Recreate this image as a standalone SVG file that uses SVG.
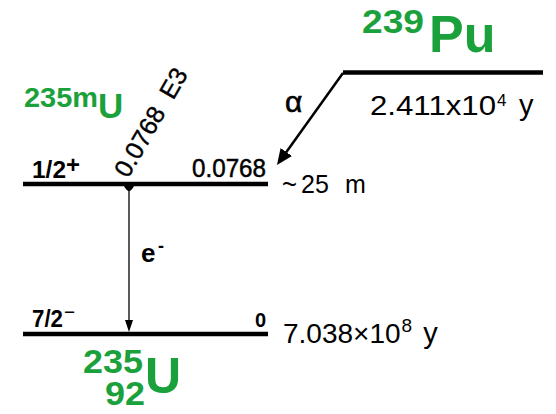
<svg xmlns="http://www.w3.org/2000/svg" width="556" height="414" viewBox="0 0 556 414">
<style>
.t{font-family:"Liberation Sans",Arial,sans-serif;fill:#000}
.g{font-family:"Liberation Sans",Arial,sans-serif;fill:#1ba13b;font-weight:bold}
.b{font-weight:bold}
.lvl{stroke:#000;stroke-width:4.5;fill:none}
</style>
<defs>
<marker id="ahA" viewBox="0 0 16 14" refX="6" refY="7" markerWidth="16" markerHeight="14" markerUnits="userSpaceOnUse" orient="auto"><path d="M0,0 L16,7 L0,14 Z" fill="#000"/></marker>
<marker id="ahE" viewBox="0 0 12 8" refX="4" refY="4" markerWidth="12" markerHeight="8" markerUnits="userSpaceOnUse" orient="auto"><path d="M0,0 L12,4 L0,8 Z" fill="#000"/></marker>
</defs>

<g id="pu239">
<line class="lvl" x1="343" y1="72.5" x2="543" y2="72.5" stroke-width="4"/>
<text class="g" x="362" y="33" font-size="33" textLength="62" lengthAdjust="spacingAndGlyphs">239</text>
<text class="g" x="429" y="52" font-size="52">Pu</text>
<text class="t" x="370" y="115" font-size="28" textLength="126" lengthAdjust="spacingAndGlyphs">2.411x10</text>
<text class="t" x="497" y="106" font-size="17">4</text>
<text class="t" x="519" y="115" font-size="29">y</text>
</g>

<g id="u235m">
<line class="lvl" x1="23" y1="184" x2="268" y2="184"/>
<text class="g" x="24" y="107" font-size="27" textLength="74" lengthAdjust="spacingAndGlyphs">235m</text>
<text class="g" x="98" y="118" font-size="35">U</text>
<text class="t b" x="32" y="178" font-size="24" textLength="34" lengthAdjust="spacingAndGlyphs">1/2</text>
<text class="t b" x="66" y="172.5" font-size="24" textLength="14" lengthAdjust="spacingAndGlyphs">+</text>
<text class="t" x="192" y="177" font-size="25" stroke="#000" stroke-width="0.5" textLength="74" lengthAdjust="spacingAndGlyphs">0.0768</text>
<text class="t" x="282" y="195" font-size="25" textLength="15" lengthAdjust="spacingAndGlyphs" transform="translate(0,-40) scale(1,1.2)">~</text>
<text class="t" x="301" y="193" font-size="25">25</text>
<text class="t" x="345" y="193" font-size="25">m</text>
<text class="t" transform="translate(128,179) rotate(-60)" font-size="25" stroke="#000" stroke-width="0.4">0.0768<tspan dx="14">E3</tspan></text>
</g>

<g id="u235">
<line class="lvl" x1="23" y1="334" x2="268" y2="334" stroke-width="5"/>
<text class="t b" x="32" y="327" font-size="24" textLength="31" lengthAdjust="spacingAndGlyphs">7/2</text>
<text class="t" x="64" y="318" font-size="18" textLength="11" lengthAdjust="spacingAndGlyphs">−</text>
<text class="t b" x="255" y="327" font-size="20">0</text>
<text class="t" x="283" y="343" font-size="28">7.038×10<tspan dx="1" dy="-11" font-size="19">8</tspan><tspan dx="11" dy="11" font-size="29">y</tspan></text>
<text class="g" x="83" y="373" font-size="33" textLength="60" lengthAdjust="spacingAndGlyphs">235</text>
<text class="g" x="105" y="405" font-size="33" textLength="40" lengthAdjust="spacingAndGlyphs">92</text>
<text class="g" x="145" y="393" font-size="50">U</text>
</g>

<g id="connectors">
<line x1="343" y1="73" x2="282.8" y2="156.9" stroke="#000" stroke-width="2.5" marker-end="url(#ahA)"/>
<text class="t" x="285" y="112" font-size="30" stroke="#000" stroke-width="0.6">α</text>
<path d="M124,186 Q129,196 134,186 Z" fill="#000"/>
<line x1="129" y1="186" x2="129" y2="324" stroke="#000" stroke-width="1.3" marker-end="url(#ahE)"/>
<text class="t b" x="141" y="262" font-size="26">e</text>
<text class="t b" x="158" y="252" font-size="18">-</text>
</g>
</svg>
